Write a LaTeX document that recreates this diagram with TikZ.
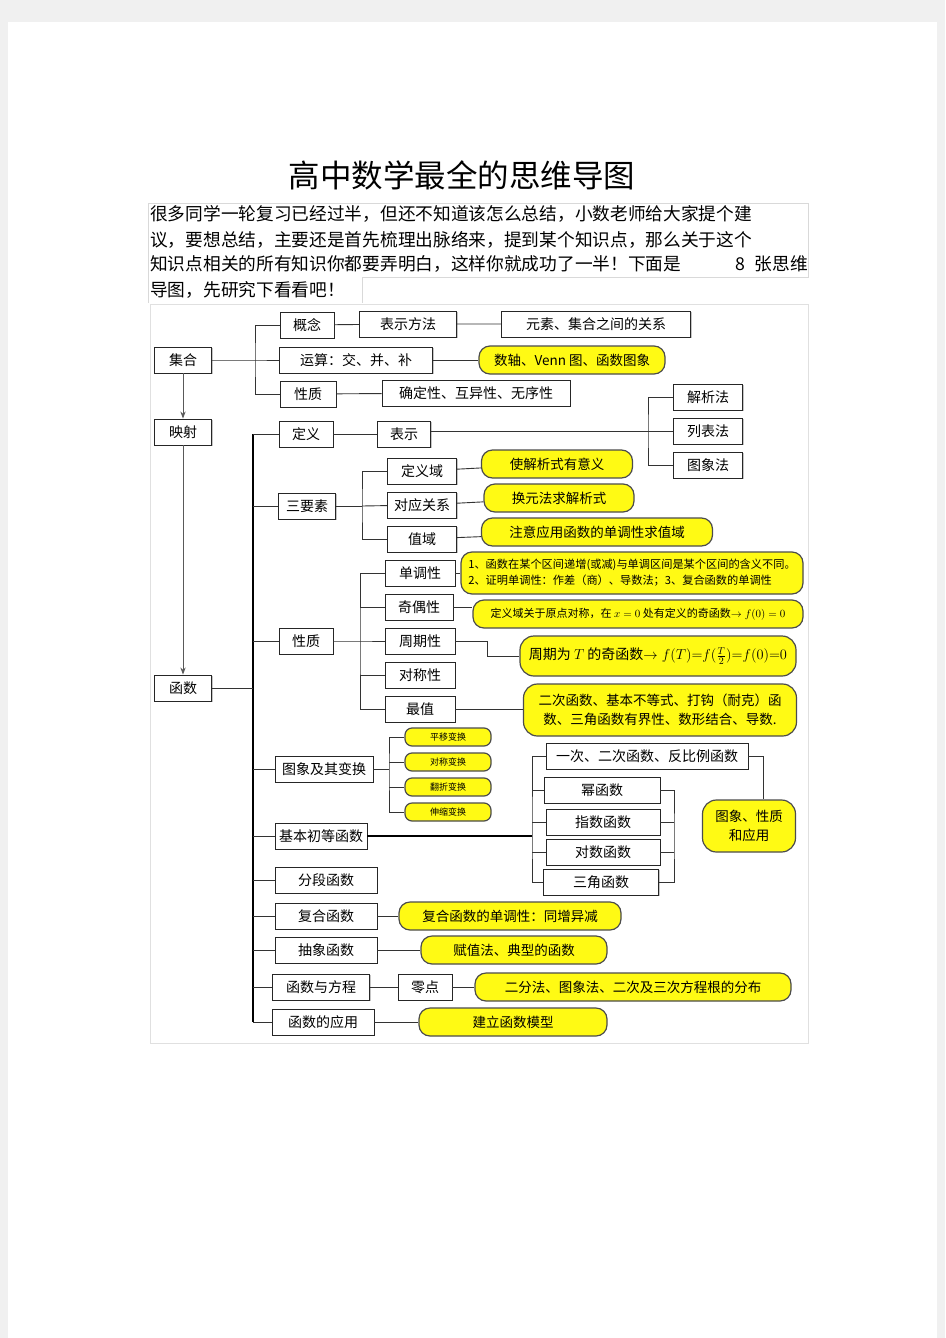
\documentclass[tikz,border=0pt]{standalone}
\usepackage{fontspec}
\usepackage{amsmath}
\usepackage{xcolor}
\usepackage{tikz}
\usetikzlibrary{arrows.meta, positioning, shadows}
\newfontfamily\cjk{Noto Sans CJK SC}
\definecolor{noteyellow}{RGB}{255,250,20}
\definecolor{pagegray}{RGB}{240,240,240}

\begin{document}
\begin{tikzpicture}[
    x=1pt, y=-1pt, >=Stealth,
    box/.style={draw=black!85, fill=white, line width=0.9pt, inner sep=1pt, minimum height=26,
        drop shadow={shadow xshift=1.2pt, shadow yshift=-1.2pt, fill=black!45},
        font=\cjk\fontsize{14}{16}\selectfont},
    note/.style={draw=black!70, fill=noteyellow, rounded corners=11, line width=1.2pt, inner sep=2pt,
        minimum height=28, align=center, font=\cjk\fontsize{13.5}{15}\selectfont},
    small note/.style={note, rounded corners=7, minimum height=18, minimum width=86,
        font=\cjk\fontsize{9}{10}\selectfont},
    link/.style={draw=black!80, line width=0.9pt},
    trunk/.style={draw=black, line width=1.5pt},
    para/.style={anchor=west, inner sep=0pt, font=\cjk\fontsize{17.7}{20}\selectfont}
]
\useasboundingbox (0,0) rectangle (945,1338);
\fill[pagegray] (0,0) rectangle (945,1338);
\fill[white] (8,22) rectangle (937,1338);

% Title and text
\node[font=\cjk\fontsize{31.5}{34}\selectfont] (title) at (462,175) {高中数学最全的思维导图};
\draw[black!15, line width=0.6pt] (148,277) -- (148,203) -- (808,203) -- (808,277) -- (362,277) -- (362,303);
\draw[black!15, line width=0.6pt] (148,277) -- (148,303);
\node[para] (p1) at (150,214) {很多同学一轮复习已经过半，但还不知道该怎么总结，小数老师给大家提个建};
\node[para] (p2) at (150,240) {议，要想总结，主要还是首先梳理出脉络来，提到某个知识点，那么关于这个};
\node[para] (p3) at (150,264) {知识点相关的所有知识你都要弄明白，这样你就成功了一半！下面是};
\node[para, anchor=east] (p3b) at (808,264) {8\hspace{9pt}张思维};
\node[para] (p4) at (150,290) {导图，先研究下看看吧！};
\draw[black!12, line width=0.8pt] (150,304) rectangle (808,1043);

% Nodes
\node[box, minimum width=57] (jihe) at (183,360) {集合};
\node[box, minimum width=57] (yingshe) at (183,432) {映射};
\node[box, minimum width=57] (hanshu) at (183,688) {函数};

\node[box, minimum width=54] (gainian) at (307,325) {概念};
\node[box, minimum width=97] (biaoshi) at (408,324) {表示方法};
\node[box, minimum width=189] (yuansu) at (596,324) {元素、集合之间的关系};
\node[box, minimum width=153] (yunsuan) at (356,360) {运算：交、并、补};
\node[note, minimum width=186] (shuzhou) at (572,360) {数轴、Venn 图、函数图象};
\node[box, minimum width=56] (xingzhiA) at (308,394) {性质};
\node[box, minimum width=188] (queding) at (476,393) {确定性、互异性、无序性};

\node[box, minimum width=54] (dingyi) at (306,434) {定义};
\node[box, minimum width=53] (biaoshiB) at (404,434) {表示};
\node[box, minimum width=69] (jiexi) at (708,397) {解析法};
\node[box, minimum width=69] (liebiao) at (708,431) {列表法};
\node[box, minimum width=69] (tuxiang) at (708,465) {图象法};

\node[box, minimum width=57] (sanyaosu) at (307,506) {三要素};
\node[box, minimum width=69] (dingyiyu) at (422,471) {定义域};
\node[box, minimum width=69] (duiying) at (422,505) {对应关系};
\node[box, minimum width=69] (zhiyu) at (422,539) {值域};
\node[note, minimum width=151] (youyiyi) at (557,464) {使解析式有意义};
\node[note, minimum width=150] (huanyuan) at (559,498) {换元法求解析式};
\node[note, minimum width=231] (qiuzhiyu) at (597,532) {注意应用函数的单调性求值域};

\node[box, minimum width=54] (xingzhiB) at (306,641) {性质};
\node[box, minimum width=70] (dandiao) at (420,573) {单调性};
\node[box, minimum width=68] (jiou) at (419,607) {奇偶性};
\node[box, minimum width=70] (zhouqi) at (420,641) {周期性};
\node[box, minimum width=70] (duicheng) at (420,675) {对称性};
\node[box, minimum width=70] (zuizhi) at (420,709) {最值};
\node[note, minimum width=342, minimum height=42, align=left, font=\cjk\fontsize{11.2}{16}\selectfont] (dandiaoN) at (632,573)
    {1、函数在某个区间递增(或减)与单调区间是某个区间的含义不同。\\2、证明单调性：作差（商）、导数法；3、复合函数的单调性};
\node[note, minimum width=330, font=\cjk\fontsize{11}{12}\selectfont] (jiouN) at (638,614)
    {定义域关于原点对称，在 $x=0$ 处有定义的奇函数$\rightarrow f(0)=0$};
\node[note, minimum width=276, minimum height=40, rounded corners=14, font=\cjk\fontsize{14}{16}\selectfont] (zhouqiN) at (658,656)
    {周期为 $T$ 的奇函数$\rightarrow f(T){=}f(\tfrac{T}{2}){=}f(0){=}0$};
\node[note, minimum width=273, minimum height=52, rounded corners=14, font=\cjk\fontsize{13.5}{19}\selectfont] (zuizhiN) at (660,710)
    {二次函数、基本不等式、打钩（耐克）函\\数、三角函数有界性、数形结合、导数.};

\node[box, minimum width=98] (bianhuan) at (324,769) {图象及其变换};
\node[small note] (pingyi) at (448,737) {平移变换};
\node[small note] (duichengB) at (448,762) {对称变换};
\node[small note] (fanzhe) at (448,787) {翻折变换};
\node[small note] (shensuo) at (448,812) {伸缩变换};

\node[box, minimum width=92] (jichu) at (321,836) {基本初等函数};
\node[box, minimum width=202] (yici) at (647,756) {一次、二次函数、反比例函数};
\node[box, minimum width=116] (mi) at (602,790) {幂函数};
\node[box, minimum width=114] (zhishu) at (603,822) {指数函数};
\node[box, minimum width=114] (duishu) at (603,852) {对数函数};
\node[box, minimum width=115] (sanjiao) at (601,882) {三角函数};
\node[note, minimum width=93, minimum height=52, rounded corners=14, font=\cjk\fontsize{13.5}{19}\selectfont] (xingzhiN) at (749,826) {图象、性质\\和应用};

\node[box, minimum width=102] (fenduan) at (326,880) {分段函数};
\node[box, minimum width=102] (fuhe) at (326,916) {复合函数};
\node[box, minimum width=102] (chouxiang) at (326,950) {抽象函数};
\node[box, minimum width=97] (fangcheng) at (321,987) {函数与方程};
\node[box, minimum width=102] (yingyong) at (323,1022) {函数的应用};
\node[note, minimum width=222] (fuheN) at (510,916) {复合函数的单调性：同增异减};
\node[note, minimum width=186] (fuzhiN) at (514,950) {赋值法、典型的函数};
\node[box, minimum width=54] (lingdian) at (425,987) {零点};
\node[note, minimum width=316] (erfenN) at (633,987) {二分法、图象法、二次及三次方程根的分布};
\node[note, minimum width=188] (moxingN) at (513,1022) {建立函数模型};

% Connectors
\draw[link, ->, black!65] (jihe) -- (yingshe);
\draw[link, ->, black!65] (yingshe) -- (hanshu);

\coordinate (jb) at (255,360);
\draw[link] (jihe) -- (jb) -- (yunsuan);
\draw[link] (gainian) -| (jb) |- (xingzhiA);
\draw[link] (gainian) -- (biaoshi) -- (yuansu);
\draw[link] (yunsuan) -- (shuzhou);
\draw[link] (xingzhiA) -- (queding);

\coordinate (ft) at (253,688);
\draw[trunk] (ft |- dingyi) -- (ft |- yingyong);
\draw[link] (hanshu) -- (ft);
\foreach \n in {dingyi, sanyaosu, xingzhiB, bianhuan, jichu, fenduan, fuhe, chouxiang, fangcheng, yingyong}
    \draw[link] (ft |- \n) -- (\n);

\coordinate (bx) at (648,431);
\draw[link] (dingyi) -- (biaoshiB);
\draw[link] (biaoshiB.east |- liebiao) -- (liebiao);
\draw[link] (jiexi) -| (bx) |- (tuxiang);

\coordinate (sb) at (362,506);
\draw[link] (sanyaosu) -- (sb);
\draw[link] (dingyiyu) -| (sb) |- (zhiyu);
\draw[link] (sb) -- (duiying);
\draw[link] (dingyiyu) -- (youyiyi);
\draw[link] (duiying) -- (huanyuan);
\draw[link] (zhiyu) -- (qiuzhiyu);

\coordinate (xb) at (360,641);
\draw[link] (xingzhiB) -- (xb) -- (zhouqi);
\draw[link] (dandiao) -| (xb) |- (zuizhi);
\draw[link] (xb |- jiou) -- (jiou);
\draw[link] (xb |- duicheng) -- (duicheng);
\draw[link] (dandiao) -- (dandiaoN);
\draw[link] (jiou) -- (jiou -| jiouN.west);
\draw[link] (zhouqi.east) -- (487,641) |- (zhouqiN.west);
\draw[link] (zuizhi) -- (zuizhi -| zuizhiN.west);

\coordinate (tb) at (389,769);
\draw[link] (bianhuan) -- (tb);
\draw[link] (pingyi) -| (tb) |- (shensuo);
\draw[link] (tb |- duichengB) -- (duichengB);
\draw[link] (tb |- fanzhe) -- (fanzhe);

\coordinate (eb) at (532,836);
\draw[trunk, line width=1.1pt] (jichu) -- (eb);
\draw[link] (yici) -| (eb) |- (sanjiao);
\draw[link] (eb |- mi) -- (mi);
\draw[link] (eb |- zhishu) -- (zhishu);
\draw[link] (eb |- duishu) -- (duishu);
\draw[link] (mi) -| (674,836) |- (sanjiao);
\draw[link] (674,822) -- (zhishu);
\draw[link] (674,852) -- (duishu);
\draw[link] (yici) -| ([xshift=14pt]xingzhiN.north);

\draw[link] (fuhe) -- (fuheN);
\draw[link] (chouxiang) -- (fuzhiN);
\draw[link] (fangcheng) -- (lingdian) -- (erfenN);
\draw[link] (yingyong) -- (moxingN);

\end{tikzpicture}
\end{document}
